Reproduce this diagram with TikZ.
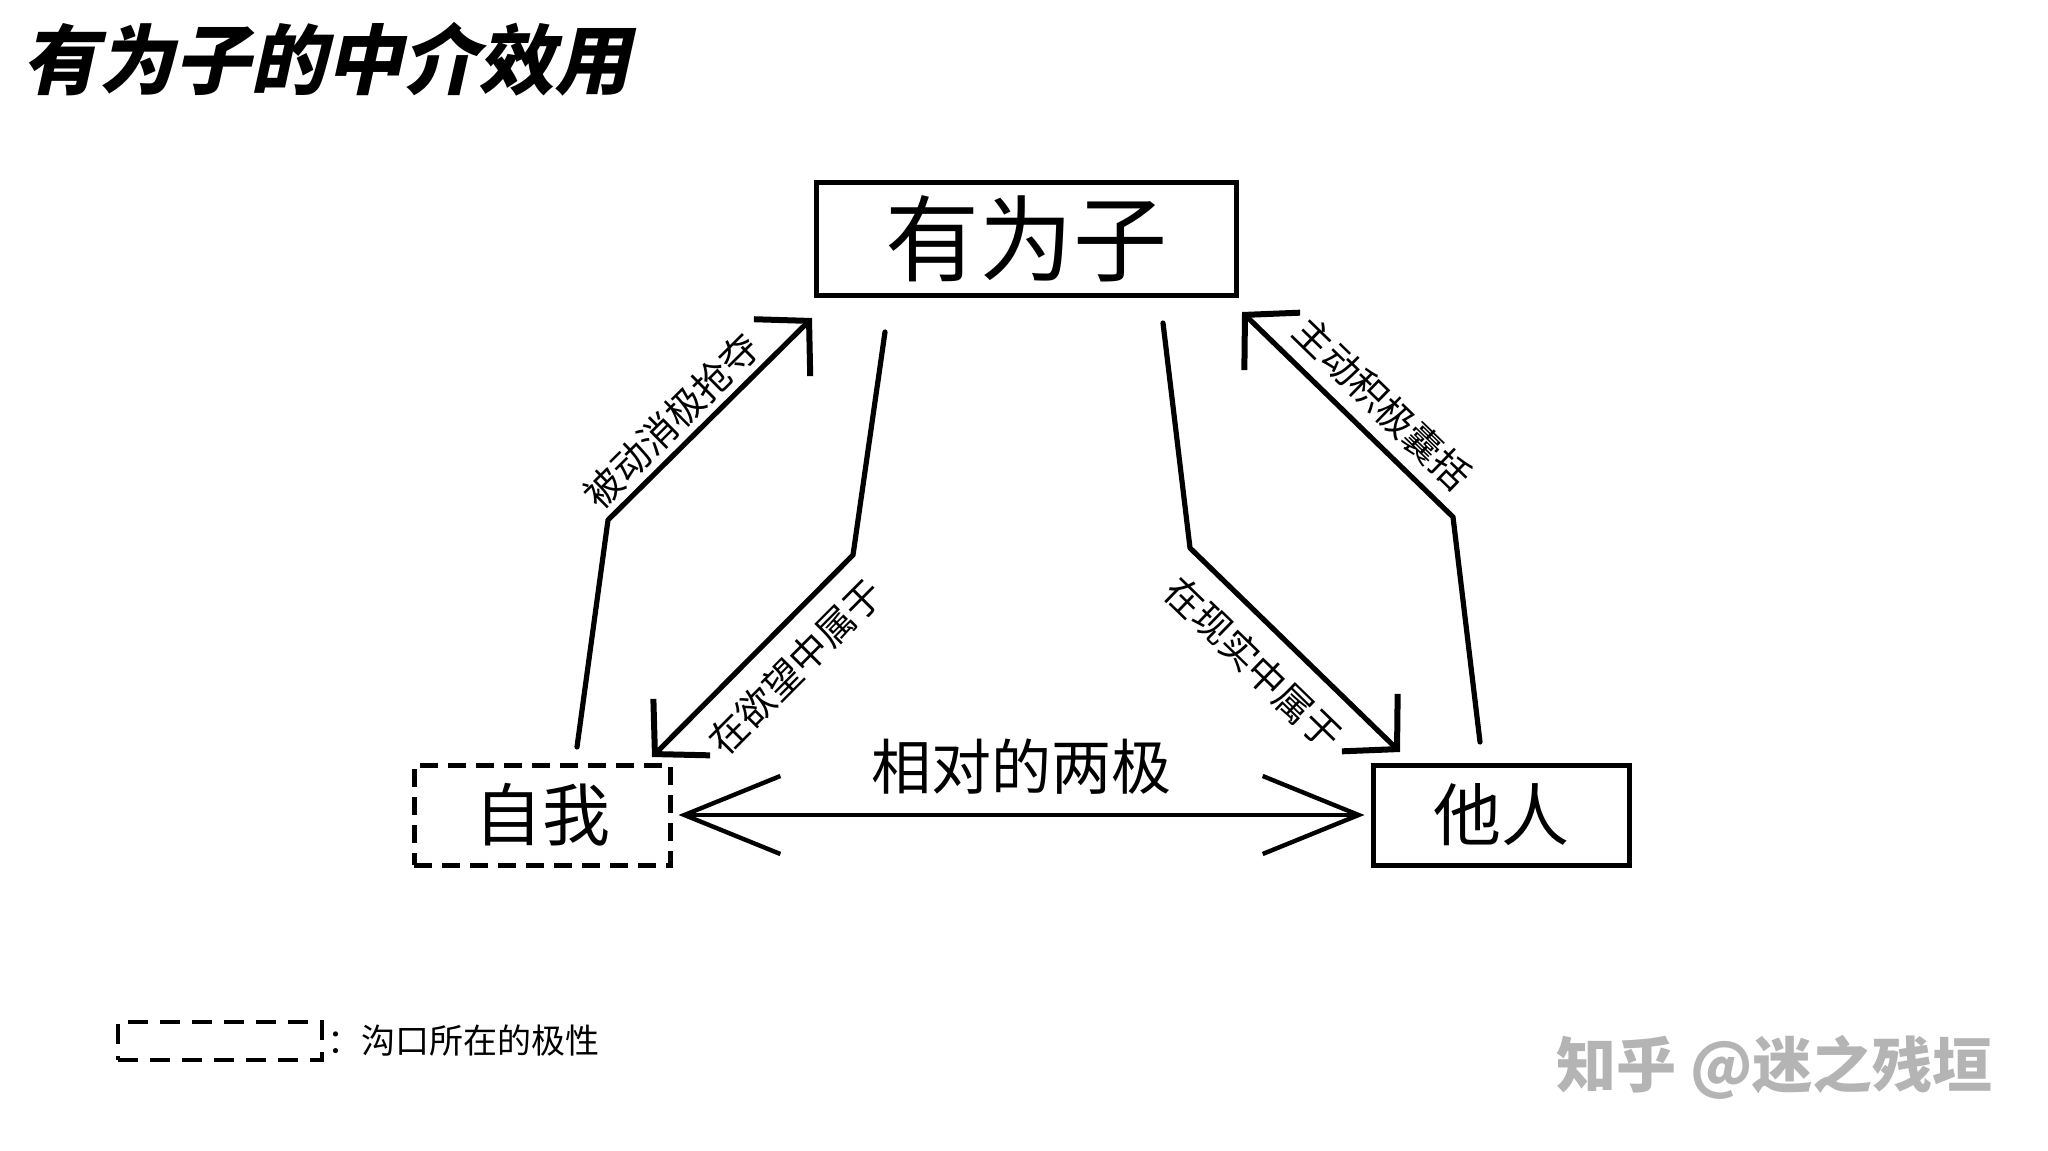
\documentclass[tikz,border=0pt]{standalone}
\usepackage{fontspec}
\setmainfont{Noto Sans CJK SC}
\newfontfamily\titlefont{Noto Sans CJK SC}[FakeSlant=0.22]
\usepackage{tikz}
\usetikzlibrary{positioning, arrows.meta}
\definecolor{cInk}{HTML}{000000}
\definecolor{cMark}{HTML}{B4B4B4}
\tikzset{
  hubbox/.style={
    rectangle, draw=cInk, line width=2.5pt, minimum width=210pt, minimum height=56pt,
    font=\fontsize{47pt}{47pt}\selectfont, inner sep=0pt
  },
  polebox/.style={
    rectangle, draw=cInk, line width=2.5pt, minimum width=128pt, minimum height=50pt,
    font=\fontsize{34pt}{34pt}\selectfont, inner sep=0pt
  },
  gapbox/.style={polebox, dash pattern=on 9pt off 5pt},
  legbox/.style={
    rectangle, draw=cInk, line width=2pt, minimum width=102pt, minimum height=19pt,
    dash pattern=on 10pt off 6pt
  },
  flowline/.style={line width=2.6pt, line join=round, line cap=round,
    -{Straight Barb[length=19pt, width=40pt, line width=3pt]}},
  relline/.style={line width=2.2pt, line cap=round,
    {Straight Barb[length=48pt, width=39pt]}-{Straight Barb[length=48pt, width=39pt]}},
  sidelabel/.style={sloped, inner sep=0pt, font=\fontsize{19pt}{19pt}\selectfont},
}

\begin{document}
\begin{tikzpicture}[x=0.5pt, y=-0.5pt]

  \fill[white] (0,0) rectangle (2048,1150);
  \useasboundingbox (0,0) rectangle (2048,1150);

  \node[anchor=west, inner sep=0pt,
        font=\titlefont\bfseries\fontsize{38pt}{38pt}\selectfont] (title) at (22,59)
    {有为子的中介效用};

  \node[hubbox] (you) at (1026,239) {有为子};
  \node[gapbox] (self) at (542,815) {自我};
  \node[polebox] (other) at (1501,815) {他人};

  % free ends of the four bent connectors
  \coordinate (robA) at (577,747);
  \coordinate (robB) at (608,520);
  \coordinate (robC) at (812,318);
  \coordinate (wantA) at (885,332);
  \coordinate (wantB) at (853,555);
  \coordinate (wantC) at (652,757);
  \coordinate (takeA) at (1480,742);
  \coordinate (takeB) at (1453,517);
  \coordinate (takeC) at (1242,312);
  \coordinate (realA) at (1163,323);
  \coordinate (realB) at (1190,548);
  \coordinate (realC) at (1400,752);

  \draw[flowline] (robA) -- (robB)
    -- node[sidelabel, pos=0.40, above=3pt] {被动消极抢夺} (robC);
  \draw[flowline] (wantA) -- (wantB)
    -- node[sidelabel, pos=0.42, below=9pt] {在欲望中属于} (wantC);
  \draw[flowline] (takeA) -- (takeB)
    -- node[sidelabel, pos=0.44, above=6pt] {主动积极囊括} (takeC);
  \draw[flowline] (realA) -- (realB)
    -- node[sidelabel, pos=0.43, below=9pt] {在现实中属于} (realC);

  \draw[relline, shorten <=3pt, shorten >=3pt] (self) --
    node[above=9pt, inner sep=0pt, font=\fontsize{30pt}{30pt}\selectfont] (poles) {相对的两极}
    (other);

  % legend
  \node[legbox] (leg) at (220,1041) {};
  \node[right=1.5pt of leg, inner sep=0pt, font=\fontsize{17pt}{17pt}\selectfont] (legtxt)
    {：沟口所在的极性};

  \node[anchor=west, inner sep=0pt, text=cMark,
        font=\bfseries\fontsize{30pt}{30pt}\selectfont] (mark) at (1556,1067)
    {知乎 @迷之残垣};

\end{tikzpicture}
\end{document}
